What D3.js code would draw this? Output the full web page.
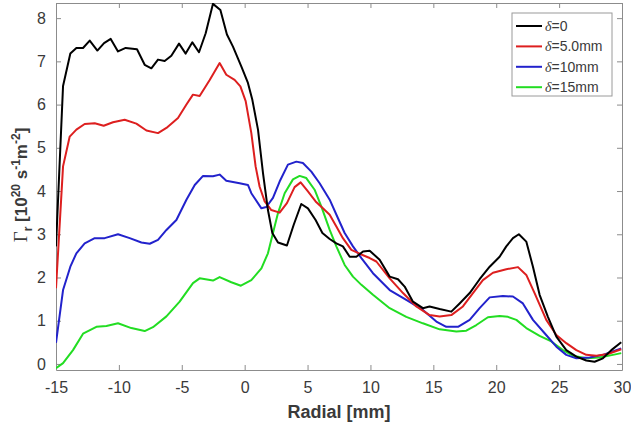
<!DOCTYPE html>
<html>
<head>
<meta charset="utf-8">
<script src="https://cdn.jsdelivr.net/npm/d3@7"></script>
<style>
  body { margin: 0; background: #fff; }
  text { font-family: "Liberation Sans", Arial, sans-serif; }
</style>
</head>
<body>
<div id="chart"></div>
<script>
// values
const seriesNames = ["δ=0", "δ=5.0mm", "δ=10mm", "δ=15mm"];
const seriesColors = ["#000000", "#dd1f1f", "#2222cc", "#22dd22"];

const xBlack = [-15, -14.44, -13.86, -13.38, -12.85, -12.32, -11.71, -11.18, -10.65, -10.07, -9.46, -8.56, -7.95, -7.42, -6.89, -6.36, -5.83, -5.22, -4.69, -4.16, -3.63, -3.1, -2.52, -1.93, -1.41, -0.93, -0.26, 0.26, 0.61, 1.06, 1.46, 1.85, 2.2, 2.65, 3.36, 3.9, 4.5, 5.03, 5.64, 6.18, 6.76, 7.29, 7.81, 8.35, 8.88, 9.41, 9.94, 10.73, 11.53, 12.19, 12.72, 13.38, 14.17, 14.7, 15.5, 16.43, 17.09, 17.89, 18.68, 19.48, 20.27, 20.8, 21.33, 21.8, 22.39, 22.92, 23.45, 24.11, 24.78, 25.57, 26.37, 27.16, 27.82, 28.48, 29.15, 29.94];
const yBlack = [2.72, 6.43, 7.18, 7.31, 7.31, 7.48, 7.25, 7.42, 7.52, 7.23, 7.31, 7.28, 6.92, 6.84, 7.04, 7.01, 7.13, 7.41, 7.18, 7.44, 7.21, 7.65, 8.33, 8.19, 7.62, 7.34, 6.88, 6.5, 6.11, 5.42, 4.41, 3.56, 3.03, 2.81, 2.74, 3.22, 3.7, 3.6, 3.33, 3.03, 2.89, 2.79, 2.72, 2.48, 2.48, 2.6, 2.62, 2.41, 2.02, 1.96, 1.79, 1.44, 1.29, 1.33, 1.27, 1.21, 1.4, 1.64, 1.96, 2.25, 2.48, 2.72, 2.91, 3.0, 2.83, 2.25, 1.6, 1.09, 0.63, 0.32, 0.17, 0.08, 0.05, 0.13, 0.32, 0.5];

const xRed = [-15, -14.44, -13.91, -13.38, -12.72, -11.92, -11.21, -10.47, -9.54, -8.61, -7.81, -6.89, -6.22, -5.3, -4.63, -4.11, -3.58, -2.78, -1.99, -1.46, -0.8, -0.34, 0.08, 0.53, 0.87, 1.19, 1.59, 2.12, 2.78, 3.36, 3.97, 4.45, 5.03, 5.64, 6.22, 6.76, 7.29, 7.81, 8.48, 9.14, 9.94, 10.47, 11.53, 12.59, 13.65, 14.7, 15.5, 16.43, 17.35, 18.15, 18.94, 19.74, 20.8, 21.73, 22.39, 23.05, 23.98, 24.78, 25.57, 26.37, 27.16, 27.96, 28.88, 29.94];
const yRed = [1.75, 4.57, 5.26, 5.42, 5.55, 5.57, 5.51, 5.59, 5.65, 5.56, 5.4, 5.34, 5.46, 5.69, 6.0, 6.23, 6.2, 6.57, 6.96, 6.69, 6.57, 6.42, 6.08, 5.34, 4.57, 4.1, 3.76, 3.56, 3.5, 3.72, 4.09, 4.2, 3.99, 3.76, 3.6, 3.45, 3.18, 2.91, 2.64, 2.55, 2.45, 2.37, 1.98, 1.64, 1.33, 1.13, 1.1, 1.13, 1.33, 1.64, 1.94, 2.11, 2.19, 2.24, 2.06, 1.64, 1.02, 0.67, 0.48, 0.32, 0.21, 0.19, 0.23, 0.34];

const xBlue = [-15, -14.44, -13.86, -13.38, -12.72, -11.92, -11.13, -10.07, -9.14, -8.21, -7.55, -6.89, -6.22, -5.43, -4.63, -3.97, -3.31, -2.52, -1.99, -1.46, -0.4, 0.26, 0.53, 1.33, 1.72, 2.25, 2.78, 3.44, 4.11, 4.63, 5.3, 5.96, 6.76, 7.42, 7.95, 8.61, 9.28, 10.2, 11.53, 12.85, 14.17, 15.24, 16.03, 16.96, 17.89, 18.68, 19.48, 20.53, 21.33, 22.12, 22.92, 23.85, 24.78, 25.57, 26.37, 27.43, 28.48, 29.94];
const yBlue = [0.49, 1.71, 2.25, 2.56, 2.79, 2.91, 2.91, 3.0, 2.91, 2.81, 2.78, 2.87, 3.1, 3.33, 3.8, 4.14, 4.35, 4.34, 4.38, 4.24, 4.18, 4.14, 3.95, 3.6, 3.63, 3.84, 4.22, 4.61, 4.68, 4.65, 4.45, 4.18, 3.8, 3.37, 3.03, 2.72, 2.45, 2.1, 1.71, 1.48, 1.25, 0.98, 0.86, 0.86, 1.02, 1.29, 1.54, 1.57, 1.56, 1.4, 1.02, 0.71, 0.4, 0.21, 0.13, 0.15, 0.21, 0.36];

const xGreen = [-15, -14.44, -13.65, -12.85, -11.79, -10.99, -10.07, -9.01, -7.95, -7.29, -6.22, -5.17, -4.11, -3.58, -2.52, -1.99, -1.06, -0.3, 0.53, 1.33, 1.85, 2.25, 2.65, 3.18, 3.84, 4.37, 4.9, 5.56, 6.1, 6.76, 7.29, 7.95, 8.61, 9.28, 10.2, 11.53, 12.85, 14.17, 15.5, 16.83, 17.62, 18.42, 19.34, 20.27, 20.93, 21.6, 22.39, 23.45, 24.38, 25.3, 26.1, 27.16, 28.22, 29.28, 29.94];
const yGreen = [-0.1, 0.02, 0.32, 0.7, 0.86, 0.88, 0.94, 0.83, 0.76, 0.85, 1.1, 1.44, 1.87, 1.98, 1.93, 2.01, 1.89, 1.81, 1.94, 2.21, 2.56, 3.03, 3.49, 3.95, 4.27, 4.35, 4.3, 4.03, 3.64, 3.1, 2.72, 2.29, 2.02, 1.83, 1.6, 1.29, 1.09, 0.94, 0.8, 0.75, 0.77, 0.9, 1.08, 1.11, 1.09, 1.02, 0.83, 0.65, 0.52, 0.32, 0.19, 0.13, 0.15, 0.21, 0.25];

const xTicks = [-15, -10, -5, 0, 5, 10, 15, 20, 25, 30];
const yTicks = [0, 1, 2, 3, 4, 5, 6, 7, 8];

const width = 631;
const height = 430;
const margin = {top: 3, right: 9, bottom: 60, left: 56};
const innerW = width - margin.left - margin.right;
const innerH = height - margin.top - margin.bottom;
const axisColor = "#8c8c8c";
const textColor = "#3a3a3a";

const svg = d3.select("#chart").append("svg")
  .attr("width", width)
  .attr("height", height)
  .style("background", "#fff");

const g = svg.append("g")
  .attr("transform", `translate(${margin.left},${margin.top})`);

const x = d3.scaleLinear().domain([-15, 30]).range([0, innerW]);
const y = d3.scaleLinear().domain([-0.14, 8.35]).range([innerH, 0]);

// plain hyphen for negatives, like the original
const fmt = d => String(d);

// axes, ticks pointing in on all four sides
function styleAxis(sel) {
  sel.select(".domain").attr("stroke", axisColor);
  sel.selectAll(".tick line").attr("stroke", axisColor);
  sel.selectAll(".tick text")
    .attr("fill", textColor)
    .style("font-size", "16px")
    .style("font-family", "'Liberation Sans', Arial, sans-serif");
}

g.append("g")
  .attr("transform", `translate(0,${innerH})`)
  .call(d3.axisBottom(x).tickValues(xTicks).tickFormat(fmt).tickSizeInner(-5).tickSizeOuter(0).tickPadding(12))
  .call(styleAxis);

g.append("g")
  .call(d3.axisTop(x).tickValues(xTicks).tickSizeInner(-5).tickSizeOuter(0).tickFormat(""))
  .call(styleAxis);

g.append("g")
  .call(d3.axisLeft(y).tickValues(yTicks).tickFormat(fmt).tickSizeInner(-5).tickSizeOuter(0).tickPadding(10))
  .call(styleAxis);

g.append("g")
  .attr("transform", `translate(${innerW},0)`)
  .call(d3.axisRight(y).tickValues(yTicks).tickSizeInner(-5).tickSizeOuter(0).tickFormat(""))
  .call(styleAxis);

// curves
const seriesX = [xBlack, xRed, xBlue, xGreen];
const seriesY = [yBlack, yRed, yBlue, yGreen];

const line = d3.line()
  .x(d => x(d[0]))
  .y(d => y(d[1]))
  .curve(d3.curveLinear);

const plot = g.append("g");
plot.append("clipPath").attr("id", "clip")
  .append("rect").attr("width", innerW).attr("height", innerH);

// draw green first so black ends on top
[3, 2, 1, 0].forEach(i => {
  const pts = seriesX[i].map((v, k) => [v, seriesY[i][k]]);
  plot.append("path")
    .datum(pts)
    .attr("clip-path", "url(#clip)")
    .attr("fill", "none")
    .attr("stroke", seriesColors[i])
    .attr("stroke-width", 2)
    .attr("stroke-linejoin", "round")
    .attr("d", line);
});

// axis labels
svg.append("text")
  .attr("x", margin.left + innerW / 2)
  .attr("y", 418)
  .attr("text-anchor", "middle")
  .attr("fill", textColor)
  .style("font-size", "18px")
  .style("font-weight", "bold")
  .text("Radial [mm]");

const yl = svg.append("text")
  .attr("transform", "translate(27,185) rotate(-90)")
  .attr("text-anchor", "middle")
  .attr("fill", textColor)
  .style("font-size", "17px")
  .style("font-weight", "bold");
yl.append("tspan").style("font-family", "'Liberation Serif', 'Times New Roman', serif").style("font-weight", "normal").style("font-size", "19px").text("Γ");
yl.append("tspan").attr("dy", 5).style("font-size", "12px").text("r");
yl.append("tspan").attr("dy", -5).text(" [10");
yl.append("tspan").attr("dy", -7).style("font-size", "12px").text("20");
yl.append("tspan").attr("dy", 7).text(" s");
yl.append("tspan").attr("dy", -7).style("font-size", "12px").text("-1");
yl.append("tspan").attr("dy", 7).text("m");
yl.append("tspan").attr("dy", -7).style("font-size", "12px").text("-2");
yl.append("tspan").attr("dy", 7).text("]");

// legend
const legend = svg.append("g").attr("transform", "translate(512,13)");
legend.append("rect")
  .attr("width", 100)
  .attr("height", 83)
  .attr("fill", "#fff")
  .attr("stroke", "#9a9a9a")
  .attr("stroke-width", 1);

seriesNames.forEach((name, i) => {
  const row = legend.append("g").attr("transform", `translate(0,${13 + i * 20.4})`);
  row.append("line")
    .attr("x1", 4).attr("x2", 30)
    .attr("stroke", seriesColors[i])
    .attr("stroke-width", 2);
  const t = row.append("text")
    .attr("x", 33)
    .attr("dy", "0.35em")
    .attr("fill", textColor)
    .style("font-size", "14px");
  t.append("tspan")
    .style("font-family", "'Liberation Serif', 'Times New Roman', serif")
    .style("font-style", "italic")
    .text("δ");
  t.append("tspan").text(name.slice(1));
});
</script>
</body>
</html>
